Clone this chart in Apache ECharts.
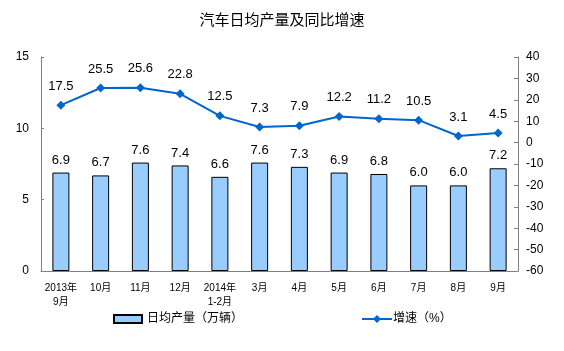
<!DOCTYPE html>
<html>
<head>
<meta charset="utf-8">
<script src="https://cdn.jsdelivr.net/npm/echarts@6/dist/echarts.min.js"></script>
<style>
  html, body { margin: 0; padding: 0; background: #fff; }
  #chart { width: 564px; height: 351px; }
</style>
</head>
<body>
<div id="chart"></div>
<script>
const months = ['2013年\n9月', '10月', '11月', '12月', '2014年\n1-2月', '3月', '4月', '5月', '6月', '7月', '8月', '9月']
const dailyOutput = [6.9, 6.7, 7.6, 7.4, 6.6, 7.6, 7.3, 6.9, 6.8, 6.0, 6.0, 7.2]
const growth = [17.5, 25.5, 25.6, 22.8, 12.5, 7.3, 7.9, 12.2, 11.2, 10.5, 3.1, 4.5]

const font = '"Liberation Sans", Arial, "Noto Sans CJK SC", sans-serif'
const chart = echarts.init(document.getElementById('chart'))

const option = {
  animation: false,
  textStyle: { fontFamily: font },
  title: {
    text: '汽车日均产量及同比增速',
    left: 'center',
    top: 8,
    textStyle: { fontSize: 15, fontWeight: 'normal', color: '#000', fontFamily: font },
  },
  legend: [
    {
      data: [{ name: '日均产量（万辆）', icon: 'rect' }],
      left: 108,
      top: 308,
      itemWidth: 28,
      itemHeight: 8,
      textStyle: { fontSize: 12, color: '#000' },
    },
    {
      data: ['增速（%）'],
      left: 356,
      top: 308,
      itemWidth: 30,
      itemHeight: 10,
      textStyle: { fontSize: 12, color: '#000', padding: [0, 0, 0, -4] },
    },
  ],
  grid: { left: 41, right: 46, top: 57, bottom: 80 },
  xAxis: {
    type: 'category',
    data: months,
    axisLine: { lineStyle: { color: '#808080' } },
    axisTick: { inside: true, length: 3, lineStyle: { color: '#808080' } },
    axisLabel: { fontSize: 10, color: '#000', margin: 10, lineHeight: 14, interval: 0 },
  },
  yAxis: [
    {
      type: 'value',
      min: 0,
      max: 15,
      interval: 5,
      splitLine: { show: false },
      axisLine: { show: true, lineStyle: { color: '#808080' } },
      axisTick: { show: true, inside: true, length: 3, lineStyle: { color: '#808080' } },
      axisLabel: { fontSize: 12, color: '#000', margin: 12 },
    },
    {
      type: 'value',
      min: -60,
      max: 40,
      interval: 10,
      splitLine: { show: false },
      axisLine: { show: true, lineStyle: { color: '#808080' } },
      axisTick: { show: true, inside: true, length: 4, lineStyle: { color: '#808080' } },
      axisLabel: { fontSize: 12, color: '#000', margin: 8 },
    },
  ],
  series: [
    {
      name: '日均产量（万辆）',
      type: 'bar',
      data: dailyOutput,
      barWidth: 17,
      itemStyle: { color: '#99CCFF', borderColor: '#000', borderWidth: 1 },
      label: {
        show: true,
        position: 'top',
        distance: 6,
        fontSize: 13,
        color: '#000',
        formatter: (p) => p.value.toFixed(1),
      },
    },
    {
      name: '增速（%）',
      type: 'line',
      yAxisIndex: 1,
      data: growth,
      symbol: 'diamond',
      symbolSize: 9,
      lineStyle: { color: '#0066CC', width: 2 },
      itemStyle: { color: '#0066CC' },
      label: {
        show: true,
        position: 'top',
        distance: 8,
        fontSize: 13,
        color: '#000',
        formatter: (p) => p.value.toFixed(1),
      },
    },
  ],
}

chart.setOption(option)
</script>
</body>
</html>
